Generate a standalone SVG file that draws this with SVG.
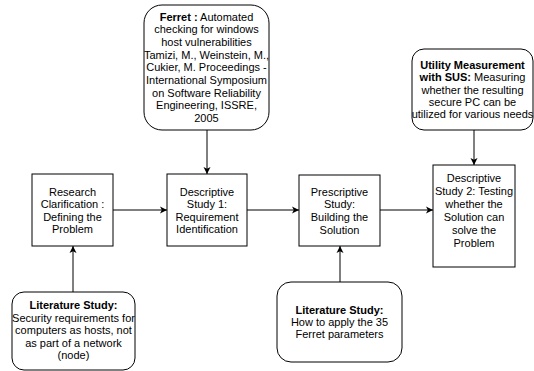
<svg xmlns="http://www.w3.org/2000/svg" width="534" height="371" viewBox="0 0 534 371">
<style>
.box{fill:#fff;stroke:#000;stroke-width:1}
.rbox{fill:#fff;stroke:#000;stroke-width:1}
text{font-family:"Liberation Sans",Arial,sans-serif;font-size:11px;fill:#000;text-anchor:middle}
.b{font-weight:bold}
.conn{stroke:#000;stroke-width:1;fill:none;marker-end:url(#ah)}
</style>
<defs>
<marker id="ah" markerWidth="8" markerHeight="8" refX="7" refY="4" orient="auto" markerUnits="userSpaceOnUse">
<path d="M0,0.5 L7,4 L0,7.5 L1.8,4 Z" fill="#000"/>
</marker>
</defs>
<rect width="534" height="371" fill="#fff"/>
<g id="connectors">
<line class="conn" x1="113" y1="210" x2="167" y2="210"/>
<line class="conn" x1="247" y1="210" x2="299" y2="210"/>
<line class="conn" x1="380" y1="210" x2="433" y2="210"/>
<line class="conn" x1="207" y1="130" x2="207" y2="174"/>
<line class="conn" x1="474" y1="130" x2="474" y2="165"/>
<line class="conn" x1="73" y1="292" x2="73" y2="246"/>
<line class="conn" x1="340" y1="282" x2="340" y2="246"/>
</g>
<g id="research-clarification">
<rect class="box" x="32" y="174" width="81" height="72"/>
<text x="72.5" y="195.5">Research</text>
<text x="72.5" y="207.5">Clarification :</text>
<text x="72.5" y="220.5">Defining the</text>
<text x="72.5" y="233">Problem</text>
</g>
<g id="descriptive-study-1">
<rect class="box" x="167" y="174" width="80" height="72"/>
<text x="207" y="195.5">Descriptive</text>
<text x="207" y="207.5">Study 1:</text>
<text x="207" y="220.5">Requirement</text>
<text x="207" y="233">Identification</text>
</g>
<g id="prescriptive-study">
<rect class="box" x="299" y="175" width="81" height="71"/>
<text x="339.5" y="195.5">Prescriptive</text>
<text x="339.5" y="207.5">Study:</text>
<text x="339.5" y="220.5">Building the</text>
<text x="339.5" y="233.5">Solution</text>
</g>
<g id="descriptive-study-2">
<rect class="box" x="433" y="165" width="82" height="102"/>
<text x="474" y="182">Descriptive</text>
<text x="474" y="195">Study 2: Testing</text>
<text x="474" y="208">whether the</text>
<text x="474" y="221">Solution can</text>
<text x="474" y="234">solve the</text>
<text x="474" y="247">Problem</text>
</g>
<g id="ferret">
<rect class="rbox" x="144" y="5" width="125" height="125" rx="18" ry="18"/>
<text x="206.5" y="20.5"><tspan class="b">Ferret :</tspan> Automated</text>
<text x="206.5" y="33.2">checking for windows</text>
<text x="206.5" y="45.9">host vulnerabilities</text>
<text x="206.5" y="58.6">Tamizi, M., Weinstein, M.,</text>
<text x="206.5" y="71.3">Cukier, M. Proceedings -</text>
<text x="206.5" y="84">International Symposium</text>
<text x="206.5" y="96.7">on Software Reliability</text>
<text x="206.5" y="109.4">Engineering, ISSRE,</text>
<text x="206.5" y="122.1">2005</text>
</g>
<g id="utility-measurement">
<rect class="rbox" x="412" y="49" width="121" height="81" rx="12" ry="12"/>
<text x="472.5" y="69" class="b">Utility Measurement</text>
<text x="472.5" y="81.3"><tspan class="b">with SUS:</tspan> Measuring</text>
<text x="472.5" y="93.6">whether the resulting</text>
<text x="472.5" y="105.9">secure PC can be</text>
<text x="472.5" y="118.2">utilized for various needs</text>
</g>
<g id="literature-study-1">
<rect class="rbox" x="12" y="292" width="123" height="78" rx="12" ry="12"/>
<text x="73.5" y="309" class="b">Literature Study:</text>
<text x="73.5" y="321.5">Security requirements for</text>
<text x="73.5" y="334">computers as hosts, not</text>
<text x="73.5" y="346.5">as part of a network</text>
<text x="73.5" y="359">(node)</text>
</g>
<g id="literature-study-2">
<rect class="rbox" x="277" y="282" width="125" height="80" rx="14" ry="14"/>
<text x="339.5" y="314" class="b">Literature Study:</text>
<text x="339.5" y="326">How to apply the 35</text>
<text x="339.5" y="338">Ferret parameters</text>
</g>
</svg>
